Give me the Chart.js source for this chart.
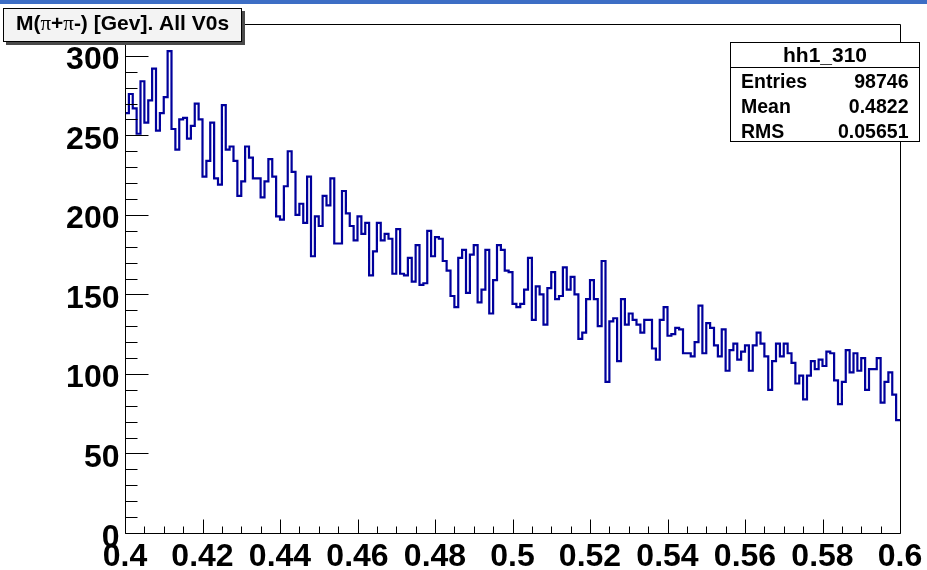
<!DOCTYPE html>
<html><head><meta charset="utf-8">
<script src="https://cdn.jsdelivr.net/npm/chart.js@4.4.1/dist/chart.umd.min.js"></script>
<style>html,body{margin:0;padding:0;background:#fff;}canvas{display:block;}</style>
</head><body>
<canvas id="c" width="927" height="570"></canvas>
<script>
// ---- data ----
const binLow = 0.4;
const binWidth = 0.001;
const counts = [
264,276,267,251,284,258,272,292,253,264,274,303,254,241,260,261,248,256,270,260,
224,234,258,223,219,269,241,243,234,212,221,243,236,223,223,211,221,235,224,199,
197,218,240,227,200,207,195,224,174,199,193,212,206,223,182,182,215,201,193,184,
199,188,195,162,177,195,184,188,185,163,191,163,162,173,158,181,156,157,190,174,
186,185,171,165,149,142,173,178,151,175,181,145,153,178,138,159,181,178,165,164,
144,142,144,153,173,134,155,150,131,154,164,147,149,167,153,161,150,122,126,147,
159,147,130,171,95,133,135,108,147,131,138,134,131,126,134,134,116,109,134,142,
124,125,129,128,113,113,111,120,143,113,132,129,118,111,128,102,115,119,109,114,
118,102,118,126,119,111,90,108,119,111,119,113,107,94,99,84,99,108,103,109,
105,114,113,96,81,95,115,101,113,102,110,90,103,103,110,82,95,101,87,71
];
const xTickValues = [0.4,0.42,0.44,0.46,0.48,0.5,0.52,0.54,0.56,0.58,0.6];
const xTickLabels = ['0.4','0.42','0.44','0.46','0.48','0.5','0.52','0.54','0.56','0.58','0.6'];
const yTickValues = [0,50,100,150,200,250,300];
const yTickLabels = ['0','50','100','150','200','250','300'];
const titleText = ['M(', 'π', '+', 'π', '-) [Gev]. All V0s'];
const statsName = 'hh1_310';
const statsLabels = ['Entries','Mean','RMS'];
const statsValues = ['98746','0.4822','0.05651'];

// histogram outline points at bin low edges (+ closing edge)
const points = counts.map((v, i) => ({x: binLow + i * binWidth, y: v}));
points.push({x: binLow + counts.length * binWidth, y: counts[counts.length - 1]});

const FONT = "'Liberation Sans', Arial, Helvetica, sans-serif";

const rootDecor = {
  id: 'rootDecor',
  afterDraw(chart) {
    const {ctx, chartArea: a, scales: {x, y}} = chart;
    const L = Math.round(a.left) + 0.5, R = Math.round(a.right) + 0.5;
    const T = Math.round(a.top) + 0.5, B = Math.round(a.bottom) + 0.5;
    ctx.save();
    // window bar
    ctx.fillStyle = '#3d6ec5';
    ctx.fillRect(0, 0, 927, 4);
    // frame
    ctx.strokeStyle = '#000';
    ctx.lineWidth = 1;
    ctx.beginPath();
    ctx.moveTo(L, T); ctx.lineTo(R, T); ctx.lineTo(R, B); ctx.lineTo(L, B); ctx.closePath();
    ctx.stroke();
    // y ticks (inside)
    ctx.beginPath();
    for (let v = 0; v <= y.max + 1e-9; v += 10) {
      const py = Math.round(y.getPixelForValue(v)) + 0.5;
      const len = (v % 50 === 0) ? 23 : 12;
      ctx.moveTo(L, py); ctx.lineTo(L + len, py);
    }
    // x ticks (inside)
    for (let k = 0; k <= 40; k++) {
      const v = 0.4 + k * 0.005;
      const px = Math.round(x.getPixelForValue(v)) + 0.5;
      const len = (k % 4 === 0) ? 14 : 7;
      ctx.moveTo(px, B); ctx.lineTo(px, B - len);
    }
    ctx.stroke();

    // axis labels
    ctx.fillStyle = '#000';
    ctx.font = 'bold 32px ' + FONT;
    ctx.textBaseline = 'alphabetic';
    ctx.textAlign = 'right';
    yTickValues.forEach((v, i) => {
      ctx.fillText(yTickLabels[i], a.left - 5.5, y.getPixelForValue(v) + 13.5);
    });
    ctx.textAlign = 'center';
    xTickValues.forEach((v, i) => {
      ctx.fillText(xTickLabels[i], x.getPixelForValue(v), a.bottom + 33);
    });

    // title box with shadow
    const bx = 3, by = 8, bw = 239, bh = 34;
    ctx.fillStyle = '#4a4a4a';
    ctx.fillRect(bx + 3, by + 3, bw, bh);
    ctx.fillStyle = '#f3f3f3';
    ctx.fillRect(bx, by, bw, bh);
    ctx.strokeStyle = '#000';
    ctx.strokeRect(bx + 0.5, by + 0.5, bw - 1, bh - 1);
    const fonts = ['bold 21px ' + FONT, "21px 'Liberation Serif', 'DejaVu Serif', serif", 'bold 21px ' + FONT, "21px 'Liberation Serif', 'DejaVu Serif', serif", 'bold 21px ' + FONT];
    let total = 0;
    const widths = titleText.map((t, i) => { ctx.font = fonts[i]; const w = ctx.measureText(t).width; total += w; return w; });
    let tx = bx + bw / 2 - total / 2;
    ctx.fillStyle = '#000';
    ctx.textBaseline = 'alphabetic';
    ctx.textAlign = 'left';
    titleText.forEach((t, i) => { ctx.font = fonts[i]; ctx.fillText(t, tx, 29.5); tx += widths[i]; });

    // stats box
    ctx.fillStyle = '#fff';
    ctx.fillRect(730, 42, 190, 100);
    ctx.strokeStyle = '#000';
    ctx.strokeRect(730.5, 42.5, 189, 99);
    ctx.beginPath(); ctx.moveTo(730.5, 67.5); ctx.lineTo(919.5, 67.5); ctx.stroke();
    ctx.fillStyle = '#000';
    ctx.font = 'bold 21px ' + FONT;
    ctx.textAlign = 'center';
    ctx.fillText(statsName, 825, 62);
    ctx.font = 'bold 19.5px ' + FONT;
    const rowsY = [87.5, 113, 137.5];
    statsLabels.forEach((lab, i) => {
      ctx.textAlign = 'left'; ctx.fillText(lab, 741, rowsY[i]);
      ctx.textAlign = 'right'; ctx.fillText(statsValues[i], 908.5, rowsY[i]);
    });
    ctx.restore();
  }
};

new Chart(document.getElementById('c'), {
  type: 'scatter',
  data: {
    datasets: [{
      data: points,
      showLine: true,
      stepped: true,
      borderColor: '#00009c',
      borderWidth: 2.2,
      pointRadius: 0,
      fill: false
    }]
  },
  options: {
    responsive: false,
    animation: false,
    devicePixelRatio: 1,
    layout: {padding: {top: 24, right: 27, left: 0, bottom: 0}},
    plugins: {legend: {display: false}, tooltip: {enabled: false}, title: {display: false}},
    scales: {
      x: {
        type: 'linear', min: 0.4, max: 0.6,
        grid: {display: false, drawTicks: false},
        border: {display: false},
        ticks: {display: false},
        afterBuildTicks: s => { s.ticks = xTickValues.map(v => ({value: v})); },
        afterFit: s => { s.height = 37; s.paddingLeft = 0; s.paddingRight = 0; }
      },
      y: {
        type: 'linear', min: 0, max: 320,
        grid: {display: false, drawTicks: false},
        border: {display: false},
        ticks: {display: false},
        afterBuildTicks: s => { s.ticks = yTickValues.map(v => ({value: v})); },
        afterFit: s => { s.width = 125; s.paddingTop = 0; s.paddingBottom = 0; }
      }
    }
  },
  plugins: [rootDecor]
});
</script>
</body></html>
